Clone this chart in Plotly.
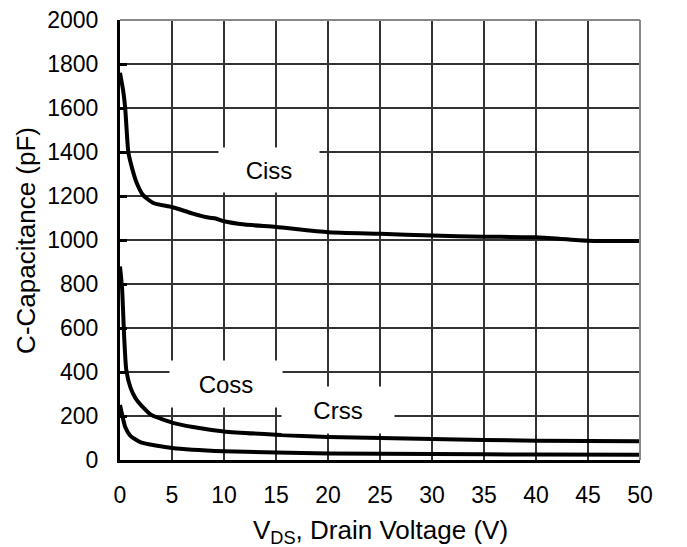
import plotly.graph_objects as go

# Data
ciss_v = [0, 0.3, 0.5, 0.8, 1.2, 1.6, 2.2, 3.2, 5, 7, 8.5, 9.2, 10, 12, 15, 20, 25, 30, 35, 40, 45, 50]
ciss_c = [1760, 1680, 1600, 1400, 1320, 1260, 1205, 1168, 1150, 1120, 1102, 1098, 1085, 1070, 1059, 1035, 1028, 1020, 1015, 1012, 997, 995]

coss_v = [0, 0.2, 0.4, 0.6, 1.0, 1.5, 2.2, 3, 5, 7, 10, 15, 20, 30, 40, 50]
coss_c = [880, 780, 560, 410, 330, 280, 240, 205, 170, 150, 130, 115, 105, 95, 88, 85]

crss_v = [0, 0.5, 1, 2, 5, 10, 20, 30, 40, 50]
crss_c = [250, 150, 110, 80, 55, 40, 30, 27, 25, 24]

x_ticks = list(range(0, 51, 5))
y_ticks = list(range(0, 2001, 200))

FONT = "Liberation Sans, Arial, sans-serif"

fig = go.Figure()
for xs, ys in [(ciss_v, ciss_c), (coss_v, coss_c), (crss_v, crss_c)]:
    fig.add_trace(go.Scatter(x=xs, y=ys, mode="lines",
                             line=dict(color="black", width=4, shape="spline", smoothing=0.5),
                             showlegend=False, hoverinfo="skip"))

fig.update_layout(
    width=679, height=539,
    margin=dict(l=112, r=47, t=12, b=87),
    paper_bgcolor="white", plot_bgcolor="white",
    font=dict(family=FONT, color="black"),
    xaxis=dict(range=[0, 50], tickvals=x_ticks, ticktext=[str(v) for v in x_ticks],
               showgrid=True, gridcolor="#333", gridwidth=1.5,
               showline=True, linecolor="black", linewidth=3, mirror=False,
               ticks="", tickfont=dict(size=23, family=FONT), ticklabelstandoff=12,
               ticklabeloverflow="allow", automargin=False,
               zeroline=False, fixedrange=True),
    yaxis=dict(range=[0, 2000], tickvals=y_ticks, ticktext=[str(v) for v in y_ticks],
               showgrid=True, gridcolor="#333", gridwidth=1.5,
               showline=True, linecolor="black", linewidth=3,
               ticks="inside", ticklen=7, tickwidth=3, tickcolor="black",
               tickfont=dict(size=23, family=FONT), ticklabelstandoff=14,
               ticklabeloverflow="allow", automargin=False,
               zeroline=False, fixedrange=True),
    shapes=[
        dict(type="line", xref="paper", yref="paper", x0=0, x1=1, y0=1, y1=1,
             line=dict(color="#888", width=2)),
        dict(type="line", xref="paper", yref="paper", x0=1, x1=1, y0=0, y1=1,
             line=dict(color="#888", width=2)),
    ],
    annotations=[
        dict(text="Ciss", x=14.3, y=1318, xref="x", yref="y", showarrow=False,
             xanchor="center", yanchor="middle",
             font=dict(size=24, family=FONT), bgcolor="white", width=98, height=42),
        dict(text="Coss", x=10.2, y=345, xref="x", yref="y", showarrow=False,
             xanchor="center", yanchor="middle",
             font=dict(size=24, family=FONT), bgcolor="white", width=110, height=44),
        dict(text="Crss", x=21.0, y=227, xref="x", yref="y", showarrow=False,
             xanchor="center", yanchor="middle",
             font=dict(size=24, family=FONT), bgcolor="white", width=110, height=44),
        dict(text="C-Capacitance (pF)", x=-0.181, y=0.5, xref="paper", yref="paper",
             xanchor="center", yanchor="middle",
             showarrow=False, textangle=-90, font=dict(size=26, family=FONT)),
        dict(text="V<sub>DS</sub>, Drain Voltage (V)", x=0.5, y=-0.1636, xref="paper", yref="paper",
             xanchor="center", yanchor="middle",
             showarrow=False, font=dict(size=26, family=FONT)),
    ],
)

fig.write_html("out.html")
